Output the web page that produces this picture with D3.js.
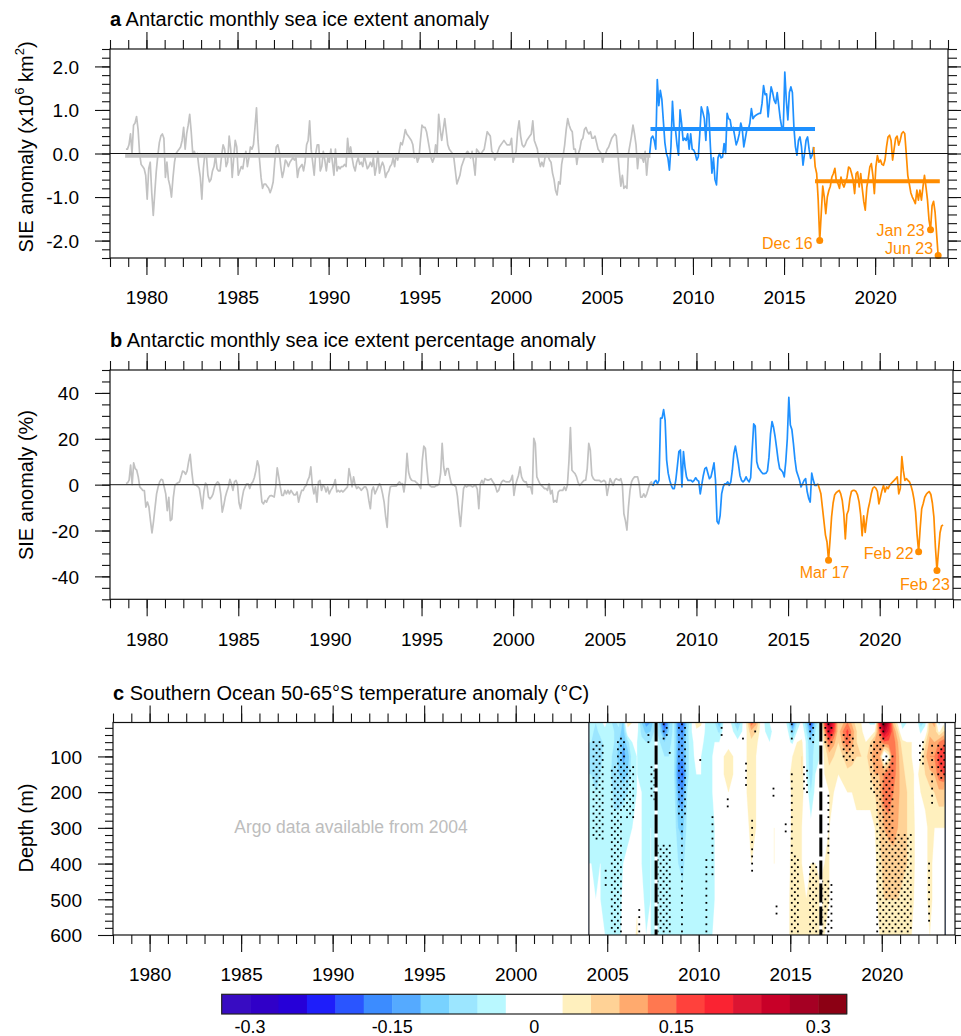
<!DOCTYPE html>
<html><head><meta charset="utf-8">
<script src="https://cdn.jsdelivr.net/npm/d3@7/dist/d3.min.js"></script>
<style>
body{margin:0;background:#fff}
svg text{font-family:"Liberation Sans",Arial,Helvetica,sans-serif}
</style></head>
<body><svg id="chart" width="961" height="1036"></svg>
<script>
// ---------------- DATA ----------------
// monthly Antarctic sea ice extent anomaly (10^6 km2), Nov 1978 .. Jun 2023
const sieFirstMonth = [1978, 11];
const sieAnom = [
 0.1, 0.1,
 0.2, 0.45, 0.0, 0.65, 0.7, 0.85, 0.55, 0.0, -0.25, -0.3, -0.35, -0.5,          // 1979
 -1.05, -0.35, -0.2, -0.9, -1.42, -0.9, -0.4, -0.05, 0.25, 0.4, 0.45, 0.35,     // 1980
 -0.55, -0.2, -0.6, -0.75, -1.0, -0.55, -0.2, 0.0, 0.05, 0.1, 0.15, 0.3,         // 1981
 0.6, 0.1, 0.45, 0.65, 0.9, 0.5, 0.0, 0.05, -0.05, 0.0, -0.3, -0.55,             // 1982
 -1.05, -0.35, 0.0, -0.05, -0.5, -0.65, -0.6, -0.4, -0.3, -0.05, -0.35, -0.4,    // 1983
 -0.4, -0.05, 0.2, 0.1, -0.3, -0.2, 0.4, 0.1, -0.55, -0.1, 0.3, 0.15,            // 1984
 -0.5, -0.4, -0.3, -0.35, -0.1, 0.05, -0.3, -0.1, 0.15, 0.1, 0.2, 0.6,           // 1985
 1.05, 0.3, -0.15, -0.55, -0.8, -0.7, -0.7, -0.75, -0.8, -0.9, -0.8, -0.65,      // 1986
 -0.2, 0.15, 0.2, 0.05, -0.3, -0.55, -0.4, -0.15, -0.2, -0.3, -0.2, -0.15,       // 1987
 -0.1, -0.15, -0.1, -0.55, -0.35, -0.3, -0.25, -0.4, -0.2, 0.2, 0.3, 0.75,       // 1988
 0.1, -0.2, -0.5, 0.0, 0.2, 0.2, -0.4, -0.3, 0.05, -0.15, -0.4, -0.1,            // 1989
 -0.2, 0.1, -0.2, -0.5, 0.1, -0.4, -0.3, -0.35, -0.3, -0.3, -0.25, -0.3,         // 1990
 0.35, 0.0, 0.15, -0.1, -0.3, -0.4, -0.2, -0.1, -0.25, -0.2, -0.3, -0.05,        // 1991
 -0.2, -0.35, -0.3, -0.2, -0.3, -0.1, -0.5, -0.3, 0.05, -0.45, -0.3, -0.2,       // 1992
 -0.3, -0.55, -0.45, -0.4, -0.3, -0.25, -0.1, -0.3, 0.0, -0.15, 0.05, 0.25,      // 1993
 0.2, 0.35, 0.55, 0.45, 0.4, 0.35, 0.3, 0.2, -0.1, 0.0, -0.2, -0.1,              // 1994
 0.3, 0.65, 0.6, 0.6, 0.5, 0.3, 0.1, -0.1, -0.2, -0.1, 0.2, 0.0,                 // 1995
 0.9, 0.55, 0.3, 0.55, 0.8, 0.5, 0.2, 0.1, 0.05, 0.0, -0.1, -0.4,                // 1996
 -0.7, -0.6, -0.5, -0.3, -0.2, -0.1, 0.0, 0.05, 0.0, -0.1, 0.05, -0.2,           // 1997
 -0.5, 0.1, 0.05, 0.0, 0.0, 0.05, 0.1, 0.3, 0.5, 0.45, 0.4, 0.05,                // 1998
 0.0, -0.15, -0.05, 0.05, 0.15, 0.2, 0.25, 0.3, 0.25, 0.2, 0.2, 0.2,             // 1999
 0.35, -0.2, -0.05, 0.05, 0.5, 0.75, 0.4, 0.2, 0.15, 0.2, 0.3, 0.35,             // 2000
 0.4, 0.45, 0.75, 0.3, 0.2, 0.1, -0.15, -0.3, -0.2, -0.3, -0.1, 0.0,             // 2001
 -0.05, -0.15, -0.2, -0.45, -0.6, -0.85, -0.95, -0.65, -0.7, -0.25, -0.05, 0.2,  // 2002
 0.55, 0.8, 0.65, 0.55, 0.5, 0.1, 0.1, -0.25, 0.0, 0.1, 0.3, 0.35,               // 2003
 0.55, 0.6, 0.5, 0.45, 0.5, 0.35, 0.35, 0.4, 0.25, 0.1, 0.05, 0.0,               // 2004
 -0.2, -0.05, 0.0, 0.1, 0.15, 0.25, 0.35, 0.4, 0.45, 0.4, 0.0, -0.4,             // 2005
 -0.75, -0.5, -0.8, -0.75, -0.8, 0.0, 0.2, 0.4, 0.65, 0.45, 0.2, -0.35,          // 2006
 0.0, -0.1, -0.1, -0.2, 0.05, -0.5, -0.1, 0.0, 0.35, 0.4, 0.3, 0.1,              // 2007
 1.7, 1.1, 1.45, 1.25, 0.75, 0.25, 0.0, -0.1, -0.38, 0.15, 1.2, 0.6,             // 2008
 0.55, 0.2, -0.04, 1.0, 0.7, 0.3, 0.35, 0.3, 0.45, 0.1, 0.45, 0.1,               // 2009
 0.08, 0.0, -0.15, -0.08, 0.45, 1.07, 0.95, 0.8, 0.3, 1.07, 0.9, 0.15,           // 2010
 -0.45, -0.1, -0.6, -0.72, -0.1, 0.0, -0.1, -0.08, 0.23, 0.0, 0.92, 0.8,         // 2011
 0.77, 0.55, 0.6, 0.4, 0.2, 0.3, 0.45, 0.7, 0.55, 0.15, 0.35, 0.55,              // 2012
 0.55, 0.7, 1.03, 0.8, 0.85, 0.88, 0.9, 0.92, 0.92, 1.15, 1.56, 1.35,            // 2013
 1.37, 0.84, 1.22, 1.53, 1.4, 1.22, 1.15, 1.4, 1.1, 0.8, 0.6, 0.57,              // 2014
 1.87, 1.22, 0.77, 1.4, 1.53, 1.4, 0.6, 0.15, -0.04, 0.3, 0.38, 0.15,            // 2015
 -0.27, 0.0, 0.3, 0.38, 0.1, -0.11, -0.04, 0.15, -0.3, -0.46, -1.07, -2.0,       // 2016
 -1.38, -0.75, -1.0, -1.38, -1.0, -0.85, -0.75, -0.54, -0.46, -0.34, -0.65, -0.69, // 2017
 -0.8, -0.54, -0.7, -0.77, -0.65, -0.55, -0.31, -0.34, -0.46, -0.61, -0.92, -0.46, // 2018
 -0.42, -0.77, -0.46, -0.8, -1.1, -1.3, -0.77, -0.57, -0.31, -0.23, -0.5, -0.92,   // 2019
 -0.3, -0.05, -0.2, -0.15, -0.25, -0.27, -0.15, 0.15, 0.38, 0.42, 0.3, -0.15,      // 2020
 0.1, 0.35, 0.4, 0.19, 0.3, 0.46, 0.5, 0.46, 0.0, -0.5, -0.7, -0.9,                // 2021
 -1.0, -1.07, -1.15, -0.84, -1.07, -0.84, -1.07, -0.77, -0.5, -0.77, -1.07, -1.53, // 2022
 -1.75, -1.2, -1.1, -1.35, -1.85, -2.34                                            // 2023
];
// monthly Antarctic sea ice extent percentage anomaly (%), same months
const siePct = [
 0.5, 0.8,
 2, 8.5, 0, 9.5, 7, 6.3, 3.4, -1, -1.7, -2.5, -2.6, -9.8,
 -7.6, -9.8, -15.7, -21, -16, -10, -4, -1, 1.2, 2.3, 2, -1,
 -4, -11.3, -5.5, -15.7, -15, -5.4, -0.3, 0.4, 0.8, 1.2, 3.4, 5.9,
 5.6, 4.5, 6, 10, 13.2, 6, 0.4, 0, -0.3, -0.8, -1.7, -6,
 -10.5, -3, 0.7, -0.3, -5.4, -6.2, -5.4, -4, -1, 0.4, 1.2, 0.4,
 -4, -12, -9, -5.4, -3, -1, 2.3, 0.4, -2.5, 1.2, 1.9, 0,
 -8, -10.5, -6, -2.5, -1, 0.4, 0.4, -1.7, 0.4, 1.2, 3, 6,
 10.4, 8, -1, -7.6, -8.4, -6.9, -7.6, -6, -5, -4.7, -5, -5.4,
 -1, 7.3, 3.4, -1, -4.7, -4.7, -2.5, -4, -2.5, -4, -2.5, -3.5,
 -4.5, -4.5, -3.2, -7.6, -4.7, -2.5, -2.5, -1, -0.3, 1.9, 3.4, 7.8,
 -0.3, -4, -1, -7.6, 1.2, 1.9, -2.5, -0.3, -1, -3.2, -1, -4,
 -2.5, -1.5, 0, 2.2, -3.2, -2.5, -3.2, -2.5, -3.2, -2.5, -1.7, -1,
 7, 3.4, -1, 3.4, 0, -1.7, -1, -1.5, -2.5, -1.7, -1, -1,
 -2.5, -6.9, -10.5, -2.5, -1, -4, -2.5, -1, 0.4, -1, -4, -7.6,
 -14, -18.6, -5.4, -1, -0.7, -0.7, -0.6, -0.6, 0.4, 1.2, 0.4, 0.5,
 -3.2, 1.9, 13.6, 5.5, 3, 1.9, 1.7, 1.6, 1, 0.4, -0.5, -1.7,
 10.7, 16.8, 15.8, 7, 0.4, -0.5, -1, -1, -1, -0.5, -0.3, 0.4,
 5, 18, 7.8, 4.1, 7, 7, 3.4, 0.4, 0, -0.3, -1, -5,
 -12, -18.2, -9.8, -1.7, -0.3, -1, -0.5, -0.3, -0.6, -1, -0.5, -0.3,
 -2, -10.5, 0.4, 1.9, 0.4, 2.6, 2.2, 1.9, 2.2, 2.6, 1.5, 0.4,
 -1, -3.2, -2.5, -0.3, 1.2, 1.9, 1.5, 1.2, 1.2, 1.2, 2, 4.1,
 -4.7, -0.3, 2, 4.1, 7.8, 3.4, 1.9, 1.2, 1.2, -1, -1, -1,
 -4, 20.2, 18, 3.4, 1.9, 0.4, -0.3, -1, -1.7, -1.7, -2.5, 0.4,
 -4, -2.5, -7.6, -6.9, -7.6, -3.2, -2.5, -2.5, -2.5, -1, -2.5, -0.3,
 10, 24.9, 6.3, 5.5, 4.8, 3.4, 1, -0.3, 0.4, 1.2, 1.9, 2,
 7, 18, 15.1, 4.1, 2.6, 2, 1.9, 1.9, 1.9, 1.2, 1.5, 1.9,
 1.2, -4.7, -1, 2.6, 1.2, -0.3, 1.9, 2.6, 2.2, 1.9, 2.6, 0,
 -12.7, -15.7, -19.8, -9.7, -2.5, 1.2, 2.6, 3.4, 3.4, 3.4, 0.4, -5.4,
 -5.4, -4, -5.4, -4, -1.7, 0.4, 1.2, -0.6, 1.2, 1.9, 0.4, 2,
 29, 29, 32.7, 28, 10.7, 5, 1.9, -0.3, -1.7, -1.7, 2, 8,
 14.4, 15.1, -1, 14.4, 7.8, 3.4, 1.9, 1.9, 1.9, 1.2, 1.9, 3,
 2, 1.5, -4, 0, 4, 7, 7.5, 5, 2.6, 3.4, 6.3, 9.5,
 1.9, -16, -17.1, -13.5, -4, -1, 0.4, 0.4, 1.2, -0.3, 1.2, 6.3,
 13.6, 16.8, 13, 9, 4, 1.9, 1.2, 1.9, 3.4, 2, 1.2, 3,
 15, 26.5, 25.6, 10, 7.5, 6.5, 5.5, 4.8, 4.8, 5, 6, 12,
 22, 27.5, 25, 21, 16, 10.7, 7, 6.3, 5.5, 3.4, 10, 20,
 38.1, 26, 24, 18, 11, 6, 4, 1.9, -1, 0.4, 1.9, 2.6,
 -3, -6, -7.6, 5, 2, -0.3, -0.3, 0.4, -1.7, -4, -10, -16,
 -22, -25, -33, -24, -14, -8, -4.5, -3.5, -3, -2.5, -4, -6.9,
 -12.7, -23.7, -13, -11.3, -6, -3, -2.5, -2.5, -3, -4.5, -7.5, -13,
 -22.3, -13.6, -20.8, -15, -10.5, -7.5, -4, -1.5, -1, -1.5, -3, -8.4,
 -5.4, -2.5, -0.3, -3.2, -1, -1.7, -0.3, 0.5, 1.2, 1.9, 2.6, 3.4,
 -4, -1.7, 12.2, 6, 1.9, 2.6, 1.9, 1.2, -0.5, -3, -6.5, -12,
 -22, -29.3, -19, -10.5, -8.2, -5.5, -4.2, -3.5, -3, -4.3, -8, -14.2,
 -27.4, -37.4, -28.9, -21, -18, -17.6
];
// period boundaries (last month of gray / blue periods) and period means (10^6 km2)
const periodBreaks = [[2007, 8], [2016, 8]];
const periodMeanSpans = [[1978.83, 2007.67], [2007.67, 2016.7], [2016.7, 2023.55]];
const periodMeans = [-0.05, 0.56, -0.64];
const sieLabels = [["Dec 16", 2016, 12], ["Jan 23", 2023, 1], ["Jun 23", 2023, 6]];
const pctLabels = [["Mar 17", 2017, 3], ["Feb 22", 2022, 2], ["Feb 23", 2023, 2]];

// ticks
const yearMajor = [1980, 1985, 1990, 1995, 2000, 2005, 2010, 2015, 2020];
const yearMinor = d3.range(1978, 2025);
const sieMajor = [-2, -1, 0, 1, 2];
const pctMajor = [-40, -20, 0, 20, 40];
const depthMajor = [100, 200, 300, 400, 500, 600];

// Southern Ocean 50-65S temperature anomaly (0.01 degC), quarterly columns from 2004
const tempStart = 2004.0, tempStep = 0.25, tempEnd = 2023.46;
const tempDepths = [5, 30, 60, 100, 150, 200, 300, 400, 500, 600];
const tempAnom = [
 [-5,-5,-6,-7,-6,-5,-4,-3,-2,-2],[-6,-7,-8,-8,-7,-6,-5,-4,-3,-2],[-4,-5,-7,-7,-6,-5,-4,-3,-3,-3],[-2,-4,-5,-5,-4,-4,-3,-4,-4,-3],
 [-5,-5,-5,-5,-5,-4,-4,-4,-4,-4],[-7,-6,-6,-7,-8,-7,-5,-5,-5,-5],[-5,-7,-9,-10,-9,-7,-5,-5,-5,-4],[-10,-11,-12,-13,-11,-7,-4,-3,-2,-2],
 [6,0,-7,-11,-9,-6,-4,-2,-1,-1],[3,1,-3,-4,-4,-4,-3,-2,-1,0],[-1,-2,-3,-3,-3,-3,-2,-1,2,4],[-9,-7,-5,-4,-4,-3,-3,-3,-2,-2],
 [-14,-10,-6,-5,-4,-4,-4,-4,-4,-3],[-12,-9,-6,-5,-5,-4,-3,-3,-3,-3],[-6,-5,-5,-5,-4,-4,-4,-4,-5,-5],[-10,-8,-6,-5,-5,-5,-5,-5,-6,-5],
 [-22,-16,-9,-6,-5,-6,-5,-5,-5,-5],[-10,-9,-7,-6,-5,-5,-4,-4,-4,-4],[-5,-5,-5,-5,-5,-4,-3,-3,-3,-3],[-16,-14,-13,-14,-16,-13,-9,-6,-5,-4],
 [-20,-16,-14,-15,-19,-15,-10,-7,-5,-5],[-8,-7,-7,-7,-7,-6,-5,-4,-4,-3],[-3,-3,-4,-4,-4,-4,-4,-4,-4,-3],[5,2,-1,-2,-3,-4,-4,-3,-4,-4],
 [4,1,-2,-3,-3,-4,-4,-4,-3,-3],[-4,-4,-4,-5,-5,-5,-5,-5,-4,-4],[-5,-4,-4,-4,-4,-4,-4,-5,-4,-4],[-6,-4,-3,-2,-2,-2,-3,-3,-3,-2],
 [-12,-7,-3,-1,0,0,-1,-1,-1,-1],[-2,-1,1,3,3,2,1,0,-1,-2],[-1,1,2,4,4,3,1,0,0,0],[-5,-3,1,3,3,2,1,0,0,0],
 [-10,-6,-2,0,1,1,0,0,0,0],[-4,-3,-1,1,2,2,1,0,0,0],[4,3,3,3,3,3,2,2,2,1],[14,8,5,4,4,4,4,3,2,1],
 [10,6,4,3,3,3,3,2,1,0],[2,2,1,1,1,0,0,0,0,0],[-4,-3,-2,-1,0,0,0,0,-1,-1],[-3,-4,-3,-2,-1,1,2,1,0,0],
 [-2,-2,-3,-3,-2,0,3,3,1,0],[-1,-1,-2,-3,-2,-1,1,1,0,0],[0,0,-1,-2,-1,-1,0,0,-1,-2],[-5,-3,-2,2,2,1,1,2,2,2],
 [-18,-10,-4,3,4,4,4,4,5,5],[-6,-3,3,5,5,4,4,4,5,5],[-2,0,4,6,6,5,3,3,3,3],[-8,-6,-4,-4,-3,-1,1,2,3,4],
 [-22,-14,-9,-8,-8,-6,-2,3,4,4],[-8,-6,-5,-4,-3,-2,0,3,4,4],[-3,-3,-3,-3,-2,-1,0,2,4,4],[16,10,6,4,3,2,2,3,4,3],
 [30,24,14,7,5,3,3,3,3,2],[20,16,10,6,4,3,2,2,2,1],[6,7,6,4,3,2,1,1,1,0],[8,12,10,6,4,2,1,0,0,0],
 [12,16,14,8,5,3,1,0,0,0],[8,11,10,7,5,3,1,0,0,0],[4,6,6,6,5,4,2,1,0,0],[3,4,5,6,5,4,2,1,1,0],
 [-2,0,3,5,5,4,2,1,0,0],[-4,0,6,8,6,4,2,1,1,0],[-5,3,10,11,9,6,3,2,2,1],[20,14,10,10,9,8,6,5,4,3],
 [34,26,14,-4,12,14,9,7,6,5],[24,20,14,2,15,15,10,7,6,5],[8,12,14,15,14,12,10,8,6,5],[2,6,9,10,10,10,9,8,6,5],
 [-6,-2,4,6,7,7,7,7,5,4],[-3,0,3,4,5,6,6,6,5,4],[2,2,3,3,4,4,5,5,4,3],[0,1,2,2,2,2,2,2,2,1],
 [-8,-4,0,3,4,3,2,1,1,0],[-5,0,5,8,6,4,2,2,2,1],[8,8,10,12,8,5,4,4,4,3],[10,8,9,12,9,6,3,2,2,1],
 [-6,2,12,16,14,8,3,2,1,1],[2,6,14,18,15,8,3,2,1,1]
];
// significance stippling regions [t0, t1, depth0, depth1]
const stippleBoxes = [
 [2004.2,2004.78,60,330],[2004.85,2004.95,410,470],[2005.5,2005.95,50,250],[2005.2,2005.8,130,600],
 [2006.05,2006.45,130,270],[2006.7,2006.8,520,600],[2007.2,2007.3,40,60],[2007.4,2007.6,130,220],
 [2007.7,2008.55,350,600],[2008.0,2008.3,5,55],[2008.35,2008.45,80,100],[2008.85,2009.35,5,260],
 [2009.0,2009.2,250,600],[2010.0,2010.1,100,120],[2010.35,2010.5,380,600],[2010.7,2010.8,265,440],
 [2011.2,2011.3,20,50],[2011.55,2011.6,220,240],[2012.3,2012.45,40,60],[2012.55,2012.65,120,180],
 [2012.85,2012.95,280,430],[2012.95,2013.1,20,40],
 [2014.05,2014.1,175,215],[2014.2,2014.3,520,545],[2014.7,2014.8,290,310],
 [2015.05,2015.2,5,60],[2015.05,2015.2,150,600],[2015.2,2015.55,380,600],[2015.7,2015.95,130,200],
 [2016.0,2016.3,5,60],[2016.05,2016.45,400,600],[2016.65,2016.8,440,600],[2016.9,2017.35,5,70],
 [2017.05,2017.15,210,370],[2016.9,2017.3,450,600],[2017.9,2018.5,40,110],[2019.4,2019.85,60,200],
 [2019.7,2020.7,170,600],[2020.7,2021.7,320,600],[2019.85,2020.25,5,80],[2020.0,2020.6,100,170],
 [2022.0,2022.4,60,120],[2022.55,2022.65,390,560],[2022.7,2022.8,60,240],[2023.05,2023.45,70,160]
];
const stippleStep = [1/6, 20];
// colour bar
const cbLevels = d3.range(-33, 34, 3);           // 0.01 degC, 23 edges -> 22 boxes
const cbColors = ["#380cc2","#3000c8","#2600d8","#1e1efa","#2a55ff","#3c8cff","#55aaff","#78d2ff","#9ce6ff","#b9f8ff",
 "#ffffff","#ffffff","#fff0be","#ffd296","#ffaa6e","#ff7850","#ff413c","#fa2332","#dc1432","#c80028","#a50023","#8c0014"];
const cbLabels = [[-30,"-0.3"],[-15,"-0.15"],[0,"0"],[15,"0.15"],[30,"0.3"]];

// ---------------- DRAWING ----------------
const svg = d3.select("#chart");
const GRAY = "#c2c2c2", BLUE = "#1e90ff", ORANGE = "#ff8c00";
const FF = '"Liberation Sans",Arial,Helvetica,sans-serif';

function monthIndex(y, m){ return (y - sieFirstMonth[0]) * 12 + (m - sieFirstMonth[1]); }
function monthTime(i){ return sieFirstMonth[0] + (sieFirstMonth[1] - 1 + i + 0.5) / 12; }

function frame(g, x, y, L, R, T, B, opt){
  const tk = sel => sel.call(s => s.select(".domain").remove())
     .call(s => s.selectAll("line").attr("stroke","#111").attr("stroke-width",1.1));
  g.append("g").attr("transform",`translate(0,${B})`).call(d3.axisBottom(x).tickValues(yearMinor).tickSize(9).tickFormat("")).call(tk);
  const bx = g.append("g").attr("transform",`translate(0,${B})`).call(d3.axisBottom(x).tickValues(yearMajor).tickSize(17).tickFormat(d=>String(d))).call(tk);
  bx.selectAll("text").attr("y",33).attr("dy","0.71em").attr("font-size",19).attr("fill","#000").attr("font-family",FF);
  g.append("g").attr("transform",`translate(0,${T})`).call(d3.axisTop(x).tickValues(yearMinor).tickSize(9).tickFormat("")).call(tk);
  g.append("g").attr("transform",`translate(0,${T})`).call(d3.axisTop(x).tickValues(yearMajor).tickSize(17).tickFormat("")).call(tk);
  g.append("g").attr("transform",`translate(${L},0)`).call(d3.axisLeft(y).tickValues(opt.minor).tickSize(8).tickFormat("")).call(tk);
  const ly = g.append("g").attr("transform",`translate(${L},0)`).call(d3.axisLeft(y).tickValues(opt.major).tickSize(15).tickFormat(opt.fmt)).call(tk);
  ly.selectAll("text").attr("x",-31).attr("dy","0.36em").attr("font-size",19).attr("fill","#000").attr("font-family",FF);
  g.append("g").attr("transform",`translate(${R},0)`).call(d3.axisRight(y).tickValues(opt.minor).tickSize(9).tickFormat("")).call(tk);
  g.append("g").attr("transform",`translate(${R},0)`).call(d3.axisRight(y).tickValues(opt.major).tickSize(15).tickFormat("")).call(tk);
  g.append("rect").attr("x",L).attr("y",T).attr("width",R-L).attr("height",B-T)
   .attr("fill","none").attr("stroke","#111").attr("stroke-width",1.2);
}
function title(letter, rest, x, y){
  const t = svg.append("text").attr("x",x).attr("y",y).attr("font-size",20).attr("fill","#000");
  t.append("tspan").attr("font-weight","bold").text(letter);
  t.append("tspan").text(" " + rest);
}
function ytitle(cy, parts){
  const t = svg.append("text").attr("transform",`translate(33,${cy}) rotate(-90)`).attr("text-anchor","middle")
    .attr("font-size",20).attr("fill","#000");
  parts.forEach(p => {
    if (p.sup) t.append("tspan").attr("font-size",13).attr("dy",-9).text(p.s);
    else t.append("tspan").attr("dy", p.after ? 9 : 0).text(p.s);
  });
}
function seriesPanel(vals, L, R, T, B, ydom, labels, offs, zeroColor){
  const x = d3.scaleLinear().domain([1978, 2024]).range([L, R]);
  const y = d3.scaleLinear().domain(ydom).range([B, T]);
  const g = svg.append("g");
  const pts = vals.map((v,i)=>({t: monthTime(i), v}));
  const b1 = monthIndex(...periodBreaks[0]), b2 = monthIndex(...periodBreaks[1]);
  const line = d3.line().x(d=>x(d.t)).y(d=>y(d.v));
  [[pts.slice(0,b1+1), GRAY],[pts.slice(b1,b2+1), BLUE],[pts.slice(b2), ORANGE]].forEach(([d,c])=>
    g.append("path").attr("d",line(d)).attr("fill","none").attr("stroke",c)
     .attr("stroke-width",1.7).attr("stroke-linejoin","round"));
  return {x, y, g, zero: () => g.append("line").attr("x1",L).attr("x2",R).attr("y1",y(0)).attr("y2",y(0))
      .attr("stroke",zeroColor).attr("stroke-width",1.2),
    labels: () => labels.forEach(([name,yy,mm],k)=>{
      const i = monthIndex(yy,mm), px = x(monthTime(i)), py = y(vals[i]);
      g.append("circle").attr("cx",px).attr("cy",py).attr("r",3.5).attr("fill",ORANGE);
      g.append("text").attr("x",px+offs[k][0]).attr("y",py+offs[k][1]).attr("text-anchor",offs[k][2])
        .attr("font-size",16).attr("fill",ORANGE).text(name);
    })};
}

// ===== Panel a =====
{
  const L=110, R=948, T=49, B=258;
  const p = seriesPanel(sieAnom, L, R, T, B, [-2.4, 2.4], sieLabels, [[-7,8,"end"],[-6,6,"end"],[-5,-1,"end"]], "#111");
  [GRAY, BLUE, ORANGE].forEach((c,k)=> p.g.append("line")
      .attr("x1",p.x(periodMeanSpans[k][0])).attr("x2",p.x(periodMeanSpans[k][1]))
      .attr("y1",p.y(periodMeans[k])).attr("y2",p.y(periodMeans[k])).attr("stroke",c).attr("stroke-width",4));
  p.zero(); p.labels();
  frame(p.g, p.x, p.y, L, R, T, B, {minor: d3.range(-24, 25, 2).map(v=>v/10), major: sieMajor, fmt: d=>d.toFixed(1)});
  title("a","Antarctic monthly sea ice extent anomaly", 110, 26);
  ytitle(147, [{s:"SIE anomaly (x10"},{s:"6",sup:true},{s:" km",after:true},{s:"2",sup:true},{s:")",after:true}]);
}

// ===== Panel b =====
{
  const L=110, R=953, T=370, B=599.3;
  const p = seriesPanel(siePct, L, R, T, B, [-50, 50], pctLabels, [[-4,17.5,"middle"],[-5,7,"end"],[-12,19.5,"middle"]], "#444");
  p.zero(); p.labels();
  frame(p.g, p.x, p.y, L, R, T, B, {minor: d3.range(-50, 51, 5), major: pctMajor, fmt: d=>String(d)});
  title("b","Antarctic monthly sea ice extent percentage anomaly", 110, 347);
  ytitle(485, [{s:"SIE anomaly (%)"}]);
}

// ===== Panel c =====
{
  const L=113, R=955, T=722.5, B=935;
  const x = d3.scaleLinear().domain([1978, 2024]).range([L, R]);
  const y = d3.scaleLinear().domain([tempDepths[0], 600]).range([T, B]);
  const g = svg.append("g");
  const nT = tempAnom.length, nD = tempDepths.length;
  const grid = new Array(nT*nD);
  for (let j=0;j<nD;j++) for (let i=0;i<nT;i++) grid[j*nT+i] = tempAnom[i][j];
  const dScale = d3.scaleLinear()
     .domain([0, ...tempDepths.map((d,j)=>j+0.5), nD])
     .range([tempDepths[0], ...tempDepths, tempDepths[nD-1]]);
  const proj = d3.geoTransform({point(px,py){ this.stream.point(x(tempStart + px*tempStep), y(dScale(py))); }});
  const path = d3.geoPath(proj);
  svg.append("defs").append("clipPath").attr("id","argo").append("rect")
     .attr("x",x(tempStart)).attr("y",T).attr("width",x(tempEnd)-x(tempStart)).attr("height",B-T);
  const thr = cbLevels.slice(1, -1);   // -30 .. 30
  const cont = d3.contours().size([nT, nD]).smooth(true).thresholds(thr)(grid);
  const hg = g.append("g").attr("clip-path","url(#argo)");
  cont.forEach(c => {
    const k = cbLevels.indexOf(c.value);
    hg.append("path").attr("d", path(c)).attr("fill", cbColors[k]).attr("stroke", cbColors[k]).attr("stroke-width",0.3);
  });
  // stippling (staggered lattice)
  const dots = [];
  let col = 0;
  for (let t = tempStart + stippleStep[0]/2; t < tempEnd; t += stippleStep[0], col++)
    for (let d = 10 + (col % 2) * stippleStep[1]/2; d < 600; d += stippleStep[1])
      if (stippleBoxes.some(b => t >= b[0] && t <= b[1] && d >= b[2] && d <= b[3])) dots.push([t,d]);
  hg.selectAll("rect.dot").data(dots).join("rect").attr("class","dot")
    .attr("x",d=>x(d[0])-0.9).attr("y",d=>y(d[1])-0.9).attr("width",1.8).attr("height",1.8).attr("fill","#000");
  // period dividers
  [2007.67, 2016.67].forEach(t=>{
    g.append("line").attr("x1",x(t)).attr("x2",x(t)).attr("y1",T).attr("y2",B).attr("stroke","#fff").attr("stroke-width",3);
    g.append("line").attr("x1",x(t)).attr("x2",x(t)).attr("y1",T).attr("y2",B).attr("stroke","#000").attr("stroke-width",3)
     .attr("stroke-dasharray","19,4");
  });
  [tempStart, tempEnd].forEach(t=> g.append("line").attr("x1",x(t)).attr("x2",x(t)).attr("y1",T).attr("y2",B)
     .attr("stroke","#111").attr("stroke-width",1.1));
  g.append("text").attr("x",351).attr("y",833).attr("text-anchor","middle").attr("font-size",17.5)
    .attr("fill","#bdbdbd").text("Argo data available from 2004");
  frame(g, x, y, L, R, T, B, {minor: d3.range(20, 600, 20), major: depthMajor, fmt: d=>String(d)});
  title("c","Southern Ocean 50-65°S temperature anomaly (°C)", 113, 700);
  ytitle(828, [{s:"Depth (m)"}]);

  // colour bar
  const cx = d3.scaleLinear().domain([-33, 33]).range([221.7, 846.7]);
  const cg = svg.append("g");
  cg.selectAll("rect.cb").data(cbColors).join("rect").attr("class","cb")
    .attr("x",(c,k)=>cx(cbLevels[k])).attr("width",(c,k)=>cx(cbLevels[k+1])-cx(cbLevels[k])+0.5)
    .attr("y",994.3).attr("height",19.7).attr("fill",c=>c);
  cg.append("rect").attr("x",cx(-33)).attr("y",994.3).attr("width",cx(33)-cx(-33)).attr("height",19.7)
    .attr("fill","none").attr("stroke","#222").attr("stroke-width",1.2);
  cg.selectAll("text").data(cbLabels).join("text").attr("x",d=>cx(d[0])).attr("y",1033)
    .attr("text-anchor","middle").attr("font-size",18).attr("fill","#000").text(d=>d[1]);
}
</script></body></html>
